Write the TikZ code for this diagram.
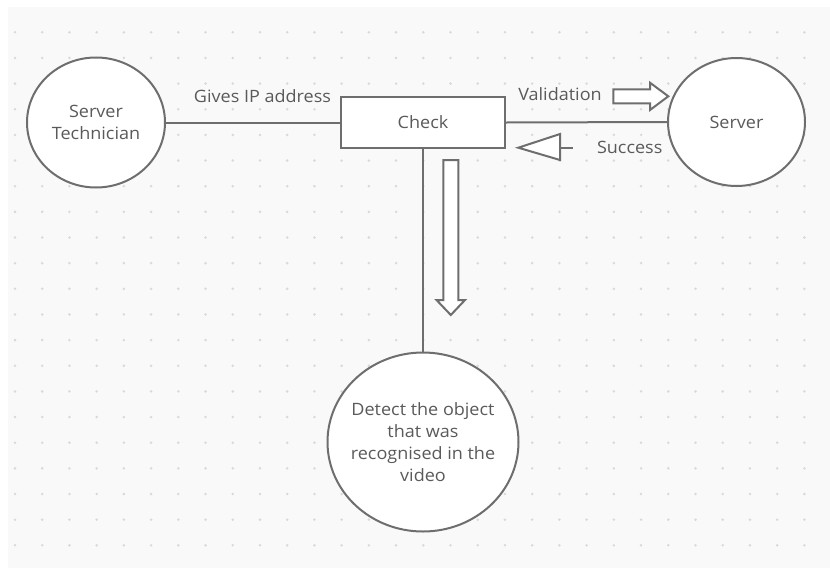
\documentclass[tikz,border=0pt]{standalone}
\usepackage{fontspec}
\setmainfont[FakeStretch=1.06]{Open Sans}
\usetikzlibrary{shapes.geometric}
\definecolor{bgpanel}{HTML}{F9F9FA}
\definecolor{griddot}{HTML}{D9D9DC}
\definecolor{edge}{HTML}{6E6E6E}
\definecolor{ink}{HTML}{5A5A5A}
\tikzset{
  txt/.style={text=ink, font=\fontsize{17}{22}\selectfont},
  lbl/.style={txt, inner sep=0pt, anchor=base},
  actor/.style={ellipse, draw=edge, line width=2pt, fill=white, inner sep=0pt},
  inside/.style={label={[txt, align=center, inner sep=0pt]center:#1}},
  procbox/.style={rectangle, draw=edge, line width=2pt, fill=white, txt, inner sep=0pt,
    minimum width=164pt, minimum height=51pt},
  link/.style={draw=edge, line width=2pt},
  hollow/.style={draw=edge, fill=white, line width=2pt, line join=miter}
}
\begin{document}
\begin{tikzpicture}[x=1pt,y=-1pt]
\useasboundingbox (0,0) rectangle (830,568);
% canvas with dotted grid
\fill[white] (0,0) rectangle (830,568);
\fill[bgpanel] (8,7) rectangle (830,568);
\foreach \i in {0,...,30}
  \foreach \j in {0,...,20}
    \fill[griddot] ({15+27.22*\i},{32.3+25.65*\j}) circle (1.4pt);

% shapes
\node[actor, minimum width=138pt, minimum height=130pt,
  inside={Server\\Technician}] (tech) at (96,122.5) {};
\node[procbox] (check) at (423,122.5) {Check};
\node[actor, minimum width=137pt, minimum height=128pt,
  inside={Server}] (server) at (736.5,122) {};
\node[actor, minimum width=191pt, minimum height=179pt,
  inside={Detect the object\\that was\\recognised in the\\video}] (detect) at (423,442) {};

% connectors
\draw[link] (tech.east) -- (check.west);
\draw[link] (check.east) -- (server.west);
\draw[link] (check.south) -- (detect.north);

% labels
\node[lbl] (ip) at (262.5,102) {Gives IP address};
\node[lbl] (val) at (560,100.7) {Validation};
\node[lbl] (ok) at (629.7,153.3) {Success};

% block arrows
\draw[hollow] (613.3,89.3) -- (650,89.3) -- (650,82.7) -- (668.3,96.3)
  -- (650,110) -- (650,103.3) -- (613.3,103.3) -- cycle;
\draw[hollow] (443.3,160) -- (458.3,160) -- (458.3,300) -- (465,300)
  -- (450.8,315) -- (436.5,300) -- (443.3,300) -- cycle;
\draw[hollow] (560,134) -- (518.3,147.7) -- (560,160) -- cycle;
\coordinate (okstem) at (573,147.7);
\draw[link] (560,147.7) -- (okstem);
\end{tikzpicture}
\end{document}
